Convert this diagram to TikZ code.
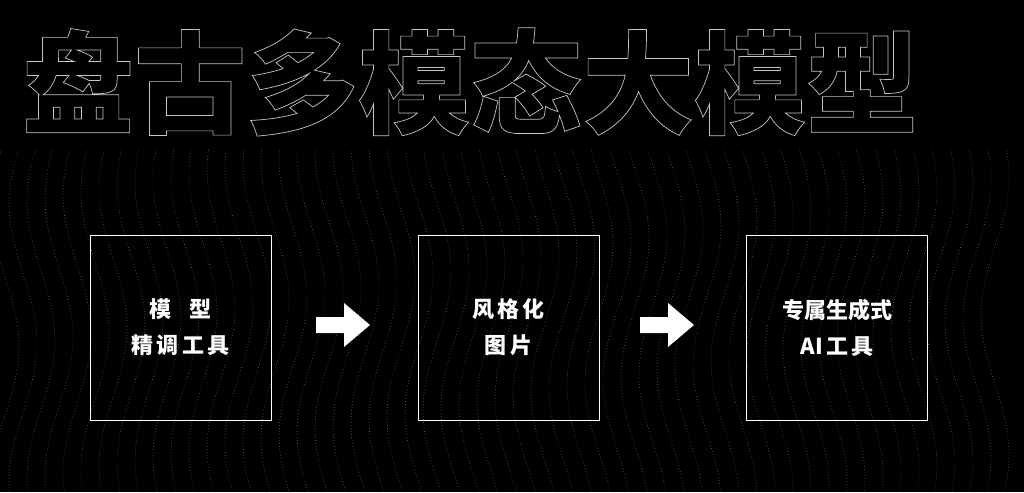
\documentclass[tikz,border=0pt]{standalone}
\usepackage{fontspec}
\newfontfamily\cjk{Noto Sans CJK SC}
\tikzset{
 stagebox/.style={draw=white,line width=1pt,minimum width=181pt,minimum height=185pt,inner sep=0pt},
 label/.style={text=white,font=\cjk\bfseries\fontsize{22}{36}\selectfont,align=center},
 blockarrow/.style={fill=white}
}
\newcommand\blockarr[1]{\fill[blockarrow] ([shift={(-27,-8)}]#1) -- ++(28,0) -- ++(0,-14) -- ++(26,22) -- ++(-26,22) -- ++(0,-14) -- ++(-28,0) -- cycle;}
\begin{document}
\begin{tikzpicture}[x=1pt,y=-1pt]
\fill[black] (0,0) rectangle (1024,492);
\useasboundingbox (0,0) rectangle (1024,492);
\foreach \i in {0,...,55}{
 \pgfmathsetmacro\xx{\i*18+5}
 \draw[gray!35,line width=0.6pt,dash pattern=on 0.6pt off 2.4pt,opacity=0.5]
   plot[domain=150:492,samples=40,variable=\t] ({\xx+14*sin(\t*1.3+\i*4)},\t);
}
\node[anchor=west,inner sep=0pt,text=gray!45] (title) at (22,82)
 {\cjk\bfseries\fontsize{112}{112}\selectfont\special{pdf:code 1 Tr 0.7 w}盘古多模态大模型\special{pdf:code 0 Tr}};
\node[stagebox] (b1) at (180.5,327.5) {};
\node[stagebox] (b2) at (508.5,327.5) {};
\node[stagebox] (b3) at (837,327.5) {};
\node[label] (t1) at (b1) {模\hspace{0.8em}型\\精\hspace{0.15em}调\hspace{0.15em}工\hspace{0.15em}具};
\node[label] (t2) at (b2) {风\hspace{0.15em}格\hspace{0.15em}化\\图\hspace{0.15em}片};
\node[label] (t3) at (b3) {专属生成式\\AI\hspace{0.15em}工\hspace{0.15em}具};
\coordinate (a1) at (343,325);
\coordinate (a2) at (667,325);
\blockarr{a1}
\blockarr{a2}
\end{tikzpicture}
\end{document}
